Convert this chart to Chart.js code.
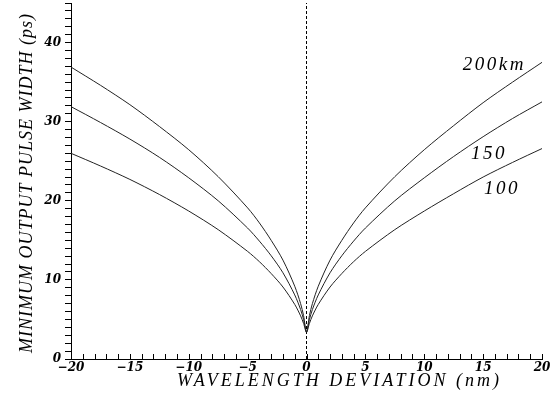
<!DOCTYPE html>
<html>
<head>
<meta charset="utf-8">
<script src="https://cdn.jsdelivr.net/npm/chart.js@4/dist/chart.umd.min.js"></script>
<style>
  html, body { margin: 0; padding: 0; background: #fff; }
  canvas { display: block; }
</style>
</head>
<body>
<canvas id="c" width="556" height="402"></canvas>
<script>
// ---- data ----
const wavelength = [-20, -17.5, -15, -12.5, -10, -7.5, -5, -4, -3, -2, -1, -0.5, -0.25, 0,
                    0.25, 0.5, 1, 2, 3, 4, 5, 7.5, 10, 12.5, 15, 17.5, 20];
const width100km = [26.0, 24.4, 22.7, 20.8, 18.7, 16.35, 13.6, 12.3, 10.8, 9.1, 6.9, 5.45, 4.5, 3.4,
                    4.5, 5.45, 6.9, 9.1, 10.8, 12.3, 13.6, 16.35, 18.7, 20.9, 23.0, 24.85, 26.6];
const width150km = [31.9, 29.9, 27.8, 25.5, 22.9, 20.0, 16.55, 14.9, 13.05, 10.9, 8.1, 6.25, 5.0, 3.4,
                    5.0, 6.25, 8.1, 10.9, 13.05, 14.9, 16.55, 20.0, 22.9, 25.6, 28.1, 30.4, 32.5];
const width200km = [36.9, 34.6, 32.15, 29.4, 26.45, 23.05, 19.1, 17.2, 15.0, 12.5, 9.2, 7.0, 5.5, 3.4,
                    5.5, 7.0, 9.2, 12.5, 15.0, 17.2, 19.1, 23.05, 26.45, 29.5, 32.4, 35.0, 37.5];
const zeroLineX = [0, 0];
const zeroLineY = [0, 45];
const curveLabels = ['200km', '150', '100'];
const curveLabelX = [15.95, 15.5, 16.6];
const curveLabelY = [37.1, 25.95, 21.45];
const xTitle = 'WAVELENGTH DEVIATION (nm)';
const yTitle = 'MINIMUM OUTPUT PULSE WIDTH (ps)';

const toPts = (xs, ys) => xs.map((x, i) => ({ x: x, y: ys[i] }));

const lineStyle = { borderColor: '#222', borderWidth: 1, pointRadius: 0, tension: 0.3, fill: false };
const tickFont = { family: '"DejaVu Serif"', size: 12, style: 'italic', weight: 'bold' };

const annotate = {
  id: 'annotate',
  afterDraw(chart) {
    const ctx = chart.ctx;
    const xs = chart.scales.x, ys = chart.scales.y;
    ctx.save();
    // inward tick marks on the x axis
    ctx.strokeStyle = '#000';
    ctx.lineWidth = 1;
    xs.ticks.forEach(t => {
      const px = Math.round(xs.getPixelForValue(t.value)) + 0.5;
      ctx.beginPath();
      ctx.moveTo(px, xs.top);
      ctx.lineTo(px, xs.top - 5);
      ctx.stroke();
    });
    // curve labels
    ctx.fillStyle = '#000';
    ctx.font = 'italic 19px "Liberation Serif"';
    ctx.textAlign = 'center';
    ctx.textBaseline = 'middle';
    if ('letterSpacing' in ctx) ctx.letterSpacing = '2.5px';
    curveLabels.forEach((s, i) => {
      ctx.fillText(s, xs.getPixelForValue(curveLabelX[i]), ys.getPixelForValue(curveLabelY[i]));
    });
    // axis titles
    ctx.font = 'italic 18px "Liberation Serif"';
    if ('letterSpacing' in ctx) ctx.letterSpacing = '3px';
    ctx.fillText(xTitle, xs.getPixelForValue(2.8), 381);
    if ('letterSpacing' in ctx) ctx.letterSpacing = '1px';
    ctx.save();
    ctx.translate(27, 183);
    ctx.rotate(-Math.PI / 2);
    ctx.fillText(yTitle, 0, 0);
    ctx.restore();
    ctx.restore();
  }
};

new Chart(document.getElementById('c'), {
  type: 'line',
  data: {
    datasets: [
      Object.assign({ label: '200km', data: toPts(wavelength, width200km) }, lineStyle),
      Object.assign({ label: '150', data: toPts(wavelength, width150km) }, lineStyle),
      Object.assign({ label: '100', data: toPts(wavelength, width100km) }, lineStyle),
      { label: 'zero', data: toPts(zeroLineX, zeroLineY), borderColor: '#000', borderWidth: 1,
        borderDash: [3, 2], pointRadius: 0, tension: 0, fill: false }
    ]
  },
  options: {
    responsive: false,
    animation: false,
    devicePixelRatio: 1,
    layout: { padding: { top: 3, right: 14, bottom: 0, left: 0 } },
    plugins: { legend: { display: false }, tooltip: { enabled: false } },
    scales: {
      x: {
        type: 'linear', min: -20, max: 20,
        grid: { drawOnChartArea: false, drawTicks: false },
        border: { color: '#000', width: 1 },
        ticks: {
          stepSize: 1, autoSkip: false, maxRotation: 0, padding: 2,
          color: '#000', font: tickFont,
          callback: v => (v % 5 === 0 ? (v < 0 ? '\u2212' + Math.abs(v) : String(v)) : '')
        },
        afterFit: s => { s.height = 43; s.paddingLeft = 0; s.paddingRight = 0; }
      },
      y: {
        type: 'linear', min: 0, max: 45,
        grid: { drawOnChartArea: false, drawTicks: true, tickLength: 6, color: '#000' },
        border: { color: '#000', width: 1 },
        ticks: {
          stepSize: 1, autoSkip: false, padding: 4,
          color: '#000', font: tickFont,
          callback: v => (v % 10 === 0 ? String(v) : '')
        },
        afterFit: s => { s.width = 71; s.paddingTop = 0; s.paddingBottom = 0; }
      }
    }
  },
  plugins: [annotate]
});
</script>
</body>
</html>
